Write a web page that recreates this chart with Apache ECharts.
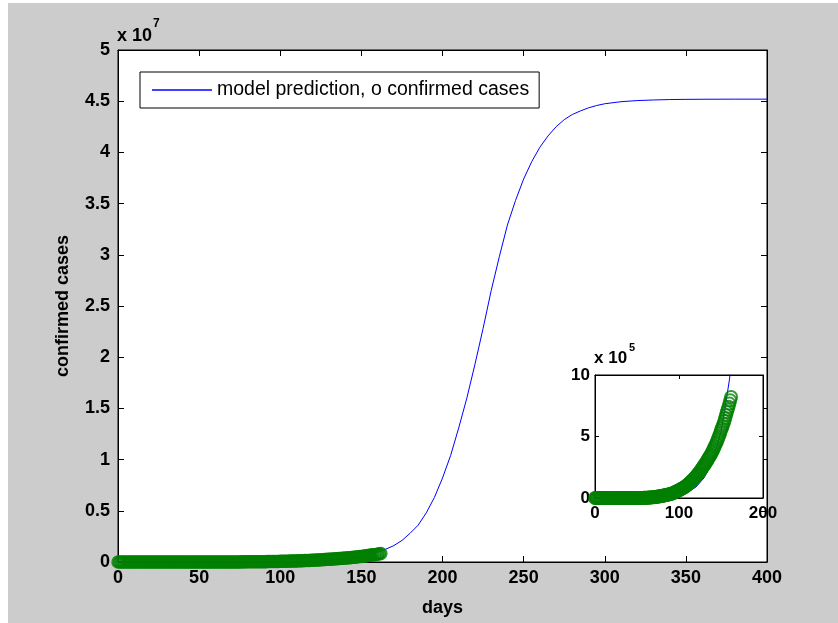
<!DOCTYPE html>
<html>
<head>
<meta charset="utf-8">
<script src="https://cdn.jsdelivr.net/npm/echarts@6/dist/echarts.min.js"></script>
<style>
html,body{margin:0;padding:0;background:#fff;}
#chart{width:838px;height:623px;}
</style>
</head>
<body>
<div id="chart"></div>
<script>
// ---- data ----
const legendName = 'model prediction, o confirmed cases';
const xAxisName = 'days';
const yAxisName = 'confirmed cases';

// main axes
const xMin = 0, xMax = 400, xInterval = 50;
const yMin = 0, yMax = 5e7, yInterval = 5e6, yScale = 1e7;
// inset axes
const insetXMin = 0, insetXMax = 200, insetXInterval = 100;
const insetYMin = 0, insetYMax = 1e6, insetYInterval = 5e5, insetYScale = 1e5;

// model prediction
const modelDays = [0,10,20,30,40,50,60,70,80,90,100,110,120,130,140,150,155,160,165,170,175,180,185,190,195,200,205,210,215,220,225,230,235,240,245,250,255,260,265,270,275,280,285,290,295,300,310,320,330,340,350,360,380,400];
const modelValues = [70,120,220,400,720,1300,2400,4400,8000,14600,26500,48000,88000,165000,300000,540000,740000,960000,1250000,1600000,2100000,2800000,3600000,4800000,6300000,8200000,10400000,13100000,16000000,19300000,22800000,26500000,29800000,32900000,35300000,37400000,39100000,40500000,41600000,42500000,43200000,43700000,44050000,44350000,44580000,44750000,44950000,45060000,45120000,45160000,45180000,45190000,45200000,45200000];

// confirmed cases, one value per day starting at day 0
const caseStartDay = 0;
const caseValues = [
1,1,1,2,3,3,3,3,3,3,3,3,3,3,3,3,3,3,3,3,3,3,3,3,3,3,3,3,3,3,3,3,
5,6,28,30,31,34,39,48,63,71,81,91,102,112,126,146,171,198,256,334,403,497,571,657,730,883,1019,1139,1326,1635,
2059,2545,3105,3684,4293,4777,5350,5916,6729,7600,8446,9205,10453,11487,12322,13430,14352,15722,17615,18539,20080,21370,23077,24530,26283,27890,29451,31324,33062,34863,
37257,39699,42505,46437,49400,53007,56351,59765,62808,67161,70768,74292,78055,81997,85784,90648,95698,100328,106475,112028,118226,124794,131423,138536,144950,150793,158086,165386,173491,181827,190609,
198370,207191,216824,226713,236184,246622,257486,265928,276146,286605,297535,308993,320922,332424,343091,354065,366946,380532,395048,410461,425282,440215,456183,473105,490401,508953,528859,548318,566840,585493,
604641,625544,648315,673165,697413,719665,742417,767296,793802,820916
];

// ---- build ----
const modelData = modelDays.map((d, i) => [d, modelValues[i]]);
const caseData = caseValues.map((v, i) => [caseStartDay + i, v]);

const FONT = '"Liberation Sans", Arial, Helvetica, sans-serif';
const BLUE = '#0000ff';
const GREEN = '#008000';

function fmtNum(v, s) {
  const r = Math.round(v / s * 100) / 100;
  return String(r);
}

function xAx(grid, min, max, interval, showLabel, pos, fontSize, tickLen, name) {
  return {
    type: 'value', gridIndex: grid, min: min, max: max, interval: interval, position: pos,
    axisLine: { show: true, onZero: false, lineStyle: { color: '#000', width: 1 } },
    axisTick: { show: true, inside: true, length: tickLen, lineStyle: { color: '#000', width: 1 } },
    axisLabel: { show: showLabel, color: '#000', fontSize: fontSize, fontFamily: FONT, fontWeight: 'bold', margin: 7 },
    splitLine: { show: false },
    name: name || '', nameLocation: 'middle', nameGap: 37,
    nameTextStyle: { color: '#000', fontSize: 18, fontFamily: FONT, fontWeight: 'bold' }
  };
}
function yAx(grid, min, max, interval, showLabel, pos, fontSize, tickLen, scale, name, margin) {
  return {
    type: 'value', gridIndex: grid, min: min, max: max, interval: interval, position: pos,
    axisLine: { show: true, onZero: false, lineStyle: { color: '#000', width: 1 } },
    axisTick: { show: true, inside: true, length: tickLen, lineStyle: { color: '#000', width: 1 } },
    axisLabel: { show: showLabel, color: '#000', fontSize: fontSize, fontFamily: FONT, fontWeight: 'bold', margin: margin,
      formatter: v => fmtNum(v, scale) },
    splitLine: { show: false },
    name: name || '', nameLocation: 'middle', nameGap: 46, nameRotate: 90,
    nameTextStyle: { color: '#000', fontSize: 18, fontFamily: FONT, fontWeight: 'bold' }
  };
}

const chart = echarts.init(document.getElementById('chart'), null, { renderer: 'canvas' });
chart.setOption({
  animation: false,
  backgroundColor: '#cccccc',
  grid: [
    { left: 118, top: 50, width: 649, height: 512, show: true, backgroundColor: '#ffffff', borderColor: '#000', borderWidth: 1, containLabel: false },
    { left: 595, top: 375, width: 168, height: 123, show: true, backgroundColor: '#ffffff', borderColor: '#000', borderWidth: 1, containLabel: false, z: 5 }
  ],
  xAxis: [
    xAx(0, xMin, xMax, xInterval, true, 'bottom', 18, 6, xAxisName),
    xAx(0, xMin, xMax, xInterval, false, 'top', 18, 6),
    Object.assign(xAx(1, insetXMin, insetXMax, insetXInterval, true, 'bottom', 17, 4), { z: 5 }),
    Object.assign(xAx(1, insetXMin, insetXMax, insetXInterval, false, 'top', 17, 4), { z: 5 })
  ],
  yAxis: [
    yAx(0, yMin, yMax, yInterval, true, 'left', 18, 6, yScale, yAxisName, 8),
    yAx(0, yMin, yMax, yInterval, false, 'right', 18, 6, yScale),
    Object.assign(yAx(1, insetYMin, insetYMax, insetYInterval, true, 'left', 17, 4, insetYScale, '', 5), { z: 5 }),
    Object.assign(yAx(1, insetYMin, insetYMax, insetYInterval, false, 'right', 17, 4, insetYScale), { z: 5 })
  ],
  legend: {
    show: true,
    left: 140, top: 72,
    orient: 'horizontal',
    padding: [7, 10, 7, 12],
    backgroundColor: '#ffffff',
    borderColor: '#000', borderWidth: 1,
    itemWidth: 60, itemHeight: 1.5,
    itemGap: 6,
    data: [{ name: legendName, icon: 'rect' }],
    textStyle: { color: '#000', fontSize: 19.5, fontFamily: FONT, lineHeight: 22 }
  },
  graphic: [
    { type: 'rect', left: 0, top: 0, shape: { width: 838, height: 3 }, style: { fill: '#ffffff' }, silent: true },
    { type: 'rect', left: 0, top: 0, shape: { width: 8, height: 623 }, style: { fill: '#ffffff' }, silent: true },
    { type: 'text', left: 117, top: 27, style: { text: 'x 10', fill: '#000', font: 'bold 18px ' + FONT } },
    { type: 'text', left: 153, top: 18, style: { text: '7', fill: '#000', font: 'bold 12px ' + FONT } },
    { type: 'text', left: 594, top: 350, z: 10, style: { text: 'x 10', fill: '#000', font: 'bold 17px ' + FONT } },
    { type: 'text', left: 629, top: 342, z: 10, style: { text: '5', fill: '#000', font: 'bold 11px ' + FONT } }
  ],
  series: [
    { name: legendName, type: 'line', xAxisIndex: 0, yAxisIndex: 0, data: modelData,
      symbol: 'none', smooth: false, lineStyle: { color: BLUE, width: 1 }, itemStyle: { color: BLUE }, z: 2 },
    { name: 'confirmed', type: 'scatter', xAxisIndex: 0, yAxisIndex: 0, data: caseData,
      symbol: 'circle', symbolSize: 11, clip: false,
      itemStyle: { color: 'rgba(0,0,0,0)', borderColor: GREEN, borderWidth: 2.5 }, z: 3 },
    { name: 'inset model', type: 'line', xAxisIndex: 2, yAxisIndex: 2, data: modelData,
      symbol: 'none', smooth: false, clip: true, lineStyle: { color: BLUE, width: 1 }, z: 6 },
    { name: 'inset confirmed', type: 'scatter', xAxisIndex: 2, yAxisIndex: 2, data: caseData,
      symbol: 'circle', symbolSize: 12, clip: false,
      itemStyle: { color: 'rgba(0,0,0,0)', borderColor: GREEN, borderWidth: 2 }, z: 7 }
  ]
});
</script>
</body>
</html>
